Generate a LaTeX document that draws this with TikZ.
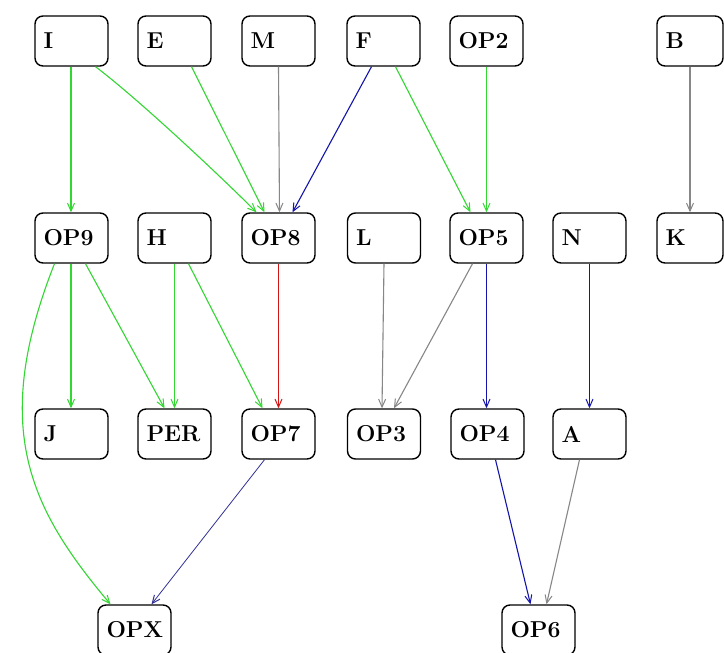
\documentclass[tikz,border=0pt]{standalone}
\usetikzlibrary{arrows.meta}
\definecolor{egreen}{RGB}{50,215,50}
\definecolor{egray}{RGB}{135,135,135}
\definecolor{eblue}{RGB}{20,20,170}
\definecolor{enavy}{RGB}{50,50,150}
\definecolor{ered}{RGB}{210,20,20}
\begin{document}
\begin{tikzpicture}[x=1pt,y=-1pt,
  box/.style={draw=black,line width=1.4pt,rounded corners=8pt,
    minimum width=73pt,minimum height=50pt,inner sep=0pt,
    text width=56pt,align=left,
    font=\fontsize{23}{23}\selectfont\bfseries},
  narrow/.style={minimum width=66pt,text width=49pt},
  edge/.style={line width=1.1pt,-{Straight Barb[length=8pt,width=7pt,line width=1pt]}},
  g/.style={edge,draw=egreen},
  k/.style={edge,draw=egray},
  b/.style={edge,draw=eblue},
  n/.style={edge,draw=enavy,line width=0.8pt},
  r/.style={edge,draw=ered}]
\useasboundingbox[fill=white] (0,0) rectangle (724,653);
% first row
\node[box] (I) at (71.5,41) {I};
\node[box] (E) at (174.5,41) {E};
\node[box] (M) at (278.5,41) {M};
\node[box] (F) at (383.5,41) {F};
\node[box] (OP2) at (486.5,41) {OP2};
\node[box,narrow] (B) at (690,41) {B};
% second row
\node[box] (OP9) at (71.5,238) {OP9};
\node[box] (H) at (174.5,238) {H};
\node[box] (OP8) at (278.5,238) {OP8};
\node[box] (L) at (384,238) {L};
\node[box] (OP5) at (486.5,238) {OP5};
\node[box] (N) at (589.5,238) {N};
\node[box,narrow] (K) at (690,238) {K};
% third row
\node[box] (J) at (71.5,434) {J};
\node[box] (PER) at (174.5,434) {PER};
\node[box] (OP7) at (278.5,434) {OP7};
\node[box] (OP3) at (384,434) {OP3};
\node[box] (OP4) at (487.5,434) {OP4};
\node[box] (A) at (589.5,434) {A};
% fourth row
\node[box] (OPX) at (134.5,630) {OPX};
\node[box] (OP6) at (538.5,630) {OP6};
% connectors
\draw[g] ([xshift=-0.5pt]I.south) -- ([xshift=-0.5pt]OP9.north);
\draw[g] ([xshift=24pt]I.south) .. controls +(40,30) and +(-40,-40) .. ([xshift=-22pt]OP8.north);
\draw[g] ([xshift=17pt]E.south) -- ([xshift=-14pt]OP8.north);
\draw[k] (M.south) -- ([xshift=1pt]OP8.north);
\draw[b] ([xshift=-12pt]F.south) -- ([xshift=14pt]OP8.north);
\draw[g] ([xshift=12pt]F.south) -- ([xshift=-16pt]OP5.north);
\draw[g] (OP2.south) -- (OP5.north);
\draw[k] (B.south) -- (K.north);
\draw[g] ([xshift=-0.5pt]OP9.south) -- ([xshift=-0.5pt]J.north);
\draw[g] ([xshift=14pt]OP9.south) -- ([xshift=-10pt]PER.north);
\draw[g] ([xshift=-17pt]OP9.south) .. controls +(-65,165) and +(-80,-95) .. ([xshift=-24pt]OPX.north);
\draw[g] (H.south) -- (PER.north);
\draw[g] ([xshift=14pt]H.south) -- ([xshift=-16pt]OP7.north);
\draw[r] (OP8.south) -- (OP7.north);
\draw[k] (L.south) -- ([xshift=-2pt]OP3.north);
\draw[k] ([xshift=-14pt]OP5.south) -- ([xshift=10pt]OP3.north);
\draw[b] (OP5.south) -- ([xshift=-1pt]OP4.north);
\draw[b] (N.south) -- (A.north);
\draw[n] ([xshift=-14pt]OP7.south) -- ([xshift=17pt]OPX.north);
\draw[b] ([xshift=8pt]OP4.south) -- ([xshift=-8pt]OP6.north);
\draw[k] ([xshift=-10pt]A.south) -- ([xshift=8pt]OP6.north);
\end{tikzpicture}
\end{document}
